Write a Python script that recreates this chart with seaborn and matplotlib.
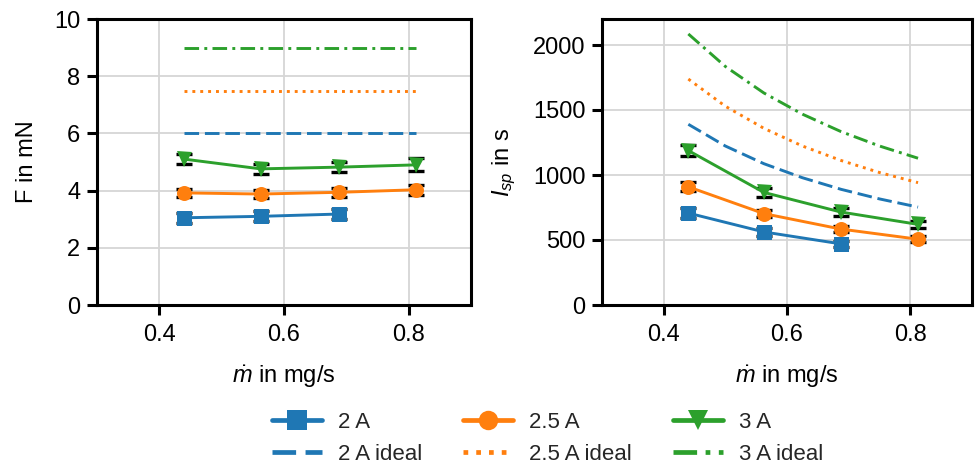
import matplotlib
matplotlib.use("Agg")
import matplotlib.pyplot as plt
from matplotlib.lines import Line2D
import seaborn as sns
import pandas as pd

# ---- data ----
mdot = [0.44, 0.5625, 0.6875, 0.8125]
mdot_2A = [0.44, 0.5625, 0.6875]

F_2A = [3.05, 3.10, 3.18]
F_25A = [3.92, 3.88, 3.94, 4.03]
F_3A = [5.10, 4.76, 4.82, 4.90]
Ferr_2A = [0.17, 0.17, 0.17]
Ferr_25A = [0.15, 0.15, 0.15, 0.17]
Ferr_3A = [0.18, 0.17, 0.18, 0.23]

Isp_2A = [707, 562, 470]
Isp_25A = [909, 703, 584, 506]
Isp_3A = [1188, 866, 715, 620]
Isperr_2A = [40, 30, 26]
Isperr_25A = [35, 28, 23, 22]
Isperr_3A = [42, 32, 28, 30]

F_ideal_2A = [6.0, 6.0, 6.0, 6.0]
F_ideal_25A = [7.5, 7.5, 7.5, 7.5]
F_ideal_3A = [9.0, 9.0, 9.0, 9.0]

mdot_ideal = [0.44, 0.50, 0.5625, 0.625, 0.6875, 0.75, 0.8125]
Isp_ideal_2A = [1390, 1223, 1087, 979, 890, 816, 753]
Isp_ideal_25A = [1738, 1529, 1359, 1223, 1112, 1019, 941]
Isp_ideal_3A = [2085, 1835, 1631, 1468, 1334, 1223, 1129]

labels = ["2 A", "2.5 A", "3 A"]
ideal_labels = ["2 A ideal", "2.5 A ideal", "3 A ideal"]
xticks = [0.4, 0.6, 0.8]

# ---- style ----
sns.set_theme(style="whitegrid")
FS = 17
plt.rcParams.update({
    "font.family": ["Liberation Sans", "DejaVu Sans"],
    "font.size": FS,
    "axes.labelsize": FS,
    "xtick.labelsize": FS,
    "ytick.labelsize": FS,
    "legend.fontsize": 16,
    "mathtext.fontset": "custom",
    "mathtext.rm": "Liberation Sans",
    "mathtext.it": "Liberation Sans:italic",
    "mathtext.bf": "Liberation Sans:bold",
    "axes.edgecolor": "black",
    "axes.linewidth": 2.2,
    "grid.color": "#d6d6d6",
    "grid.linewidth": 1.3,
    "xtick.bottom": True,
    "ytick.left": True,
    "xtick.major.size": 7,
    "ytick.major.size": 7,
    "xtick.major.width": 2.2,
    "ytick.major.width": 2.2,
    "xtick.major.pad": 6.5,
    "ytick.major.pad": 5,
    "xtick.color": "black",
    "ytick.color": "black",
    "axes.labelcolor": "black",
})

pal = sns.color_palette("tab10")
colors = [pal[0], pal[1], pal[2]]
markers = ["s", "o", "v"]
ideal_styles = [(0, (5, 2)), (0, (1, 1.7)), (0, (5, 1.8, 1, 1.8))]

fig = plt.figure(figsize=(9.78, 4.68), dpi=100)
ax1 = fig.add_axes([97/978, 1-305/468, 374/978, 286/468])
ax2 = fig.add_axes([602/978, 1-305/468, 370/978, 286/468])

meas_F = [(mdot_2A, F_2A, Ferr_2A), (mdot, F_25A, Ferr_25A), (mdot, F_3A, Ferr_3A)]
meas_I = [(mdot_2A, Isp_2A, Isperr_2A), (mdot, Isp_25A, Isperr_25A), (mdot, Isp_3A, Isperr_3A)]
ideal_F = [F_ideal_2A, F_ideal_25A, F_ideal_3A]
ideal_I = [Isp_ideal_2A, Isp_ideal_25A, Isp_ideal_3A]

for ax, meas, ideal, ideal_x in [(ax1, meas_F, ideal_F, mdot), (ax2, meas_I, ideal_I, mdot_ideal)]:
    for i in range(3):
        x, y, e = meas[i]
        ax.errorbar(x, y, yerr=e, fmt="none", ecolor="black", elinewidth=2.2,
                    capsize=5.5, capthick=2.4, zorder=2)
        df = pd.DataFrame({"x": x, "y": y})
        sns.lineplot(data=df, x="x", y="y", ax=ax, color=colors[i], marker=markers[i],
                     markersize=10.8, markeredgewidth=0, linewidth=2.1, legend=False, zorder=3)
    for i in range(3):
        dfi = pd.DataFrame({"x": ideal_x, "y": ideal[i]})
        sns.lineplot(data=dfi, x="x", y="y", ax=ax, color=colors[i], linestyle=ideal_styles[i],
                     linewidth=2.1, legend=False, zorder=3)
    ax.set_xlim(0.3, 0.9)
    ax.set_xticks(xticks)
    ax.set_xlabel(r"$\dot{m}$ in mg/s", labelpad=13)

ax1.set_ylim(0, 10)
ax1.set_yticks([0, 2, 4, 6, 8, 10])
ax1.set_ylabel("F in mN", labelpad=11.5)
ax2.set_ylim(0, 2200)
ax2.set_yticks([0, 500, 1000, 1500, 2000])
ax2.set_ylabel(r"$I_{sp}$ in s", labelpad=10.5)

handles, hlabels = [], []
for i in range(3):
    handles.append(Line2D([], [], color=colors[i], marker=markers[i], markersize=14,
                          markeredgewidth=0, linewidth=3.4))
    hlabels.append(labels[i])
    handles.append(Line2D([], [], color=colors[i], linestyle=ideal_styles[i], linewidth=3.4))
    hlabels.append(ideal_labels[i])

fig.legend(handles, hlabels, loc="upper center", bbox_to_anchor=(0.560, 0.163),
           ncol=3, frameon=False, handlelength=2.25, handletextpad=0.72, columnspacing=1.85,
           labelspacing=0.5)

fig.savefig("out.png", dpi=100)
